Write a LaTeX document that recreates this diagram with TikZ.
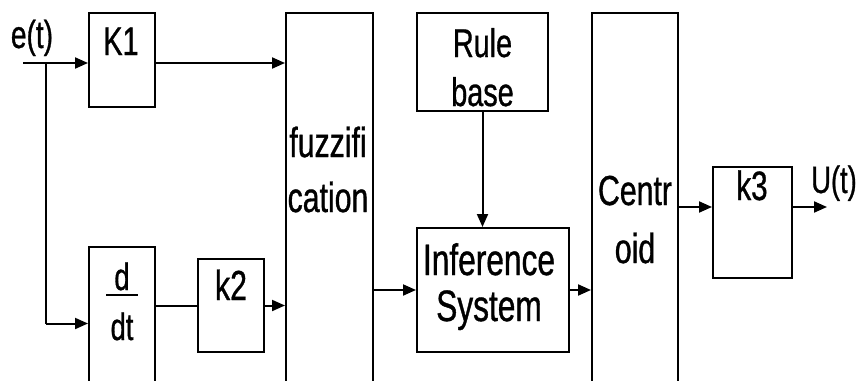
\documentclass[tikz,border=0pt]{standalone}
\usepackage{fontspec}
\setmainfont[FakeStretch=0.72,FakeBold=0.8]{Liberation Sans}
\usetikzlibrary{arrows.meta}
\begin{document}
\begin{tikzpicture}[x=1pt,y=-1pt,
  box/.style={draw,line width=2pt,inner sep=0pt,rectangle},
  txt/.style={inner sep=0pt,anchor=base},
  arr/.style={line width=2pt,-{Triangle[length=13pt,width=11pt]}},
  ln/.style={line width=2pt}]
\path[use as bounding box,clip] (0,0) rectangle (859,380);
% boxes
\node[box,minimum width=66pt,minimum height=94pt] (K1) at (122,60) {};
\node[box,minimum width=66pt,minimum height=153pt] (ddt) at (122,323.5) {};
\node[box,minimum width=66pt,minimum height=93pt] (k2) at (231,305.5) {};
\node[box,minimum width=87pt,minimum height=387pt] (fuzz) at (329.5,206.5) {};
\node[box,minimum width=131pt,minimum height=98pt] (rule) at (482.5,62) {};
\node[box,minimum width=152pt,minimum height=124pt] (inf) at (493,290) {};
\node[box,minimum width=86pt,minimum height=387pt] (cent) at (635,206.5) {};
\node[box,minimum width=79pt,minimum height=111pt] (k3) at (752.5,222.5) {};
% texts
\node[txt,font=\fontsize{39}{42}\selectfont] (et) at (32,48) {e(t)};
\node[txt,font=\fontsize{40}{42}\selectfont] (K1t) at (121,55) {K1};
\node[txt,font=\fontsize{38}{42}\selectfont] (dt1) at (122,290) {d};
\node[txt,font=\fontsize{38}{42}\selectfont] (dt2) at (122,340) {dt};
\draw[line width=2.5pt] ([xshift=-16pt,yshift=-49pt]ddt.north) coordinate (barL) -- ([xshift=16pt,yshift=-49pt]ddt.north) coordinate (barR);
\node[txt,font=\fontsize{42}{42}\selectfont] (k2t) at (231,300) {k2};
\node[txt,font=\fontsize{42}{42}\selectfont] (fz1) at (328,157) {fuzzifi};
\node[txt,font=\fontsize{42}{42}\selectfont] (fz2) at (328,212) {cation};
\node[txt,font=\fontsize{40}{42}\selectfont] (ru1) at (482.5,57) {Rule};
\node[txt,font=\fontsize{40}{42}\selectfont] (ru2) at (482.5,106) {base};
\node[txt,font=\fontsize{44}{42}\selectfont] (in1) at (489,275) {Inference};
\node[txt,font=\fontsize{44}{42}\selectfont] (in2) at (489,321) {System};
\node[txt,font=\fontsize{42}{42}\selectfont] (ce1) at (635,205) {Centr};
\node[txt,font=\fontsize{42}{42}\selectfont] (ce2) at (635,263) {oid};
\node[txt,font=\fontsize{41}{42}\selectfont] (k3t) at (752,200) {k3};
\node[txt,anchor=base west,font=\fontsize{38}{42}\selectfont] (ut) at (811,193) {U(t)};
% connectors
\coordinate (in) at (23,63);
\coordinate (br) at (46,63);
\coordinate (out) at (827,207);
\draw[arr] (in) -- (in -| K1.west);
\draw[ln] (br) -- (br |- ddt.west);
\draw[arr] (br |- ddt.west) -- (ddt.west);
\draw[arr] (in -| K1.east) -- (in -| fuzz.west);
\draw[ln] (k2.west -| ddt.east) -- (k2.west);
\draw[arr] (k2.east) -- (k2.east -| fuzz.west);
\draw[arr] (inf.west -| fuzz.east) -- (inf.west);
\draw[arr] (rule.south) -- (rule.south |- inf.north);
\draw[arr] (inf.east) -- (inf.east -| cent.west);
\draw[arr] (out -| cent.east) -- (out -| k3.west);
\draw[arr] (out -| k3.east) -- (out);
\end{tikzpicture}
\end{document}
